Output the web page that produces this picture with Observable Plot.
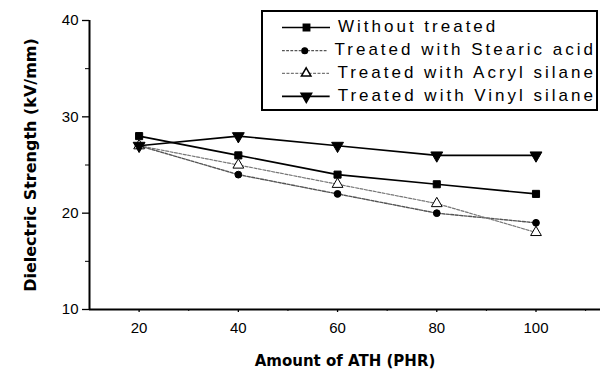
<!DOCTYPE html>
<html>
<head>
<meta charset="utf-8">
<script src="https://cdn.jsdelivr.net/npm/d3@7"></script>
<script src="https://cdn.jsdelivr.net/npm/@observablehq/plot@0.6"></script>
<style>
  html, body { margin: 0; padding: 0; background: #fff; }
  #wrap { position: relative; width: 601px; height: 374px; font-family: "Liberation Sans", Arial, sans-serif; }
  #legend { position: absolute; left: 261px; top: 10px; width: 337px; height: 101px; border: 2px solid #000; background: #fff; box-sizing: border-box; }
  .row { position: absolute; left: 0; height: 22px; display: flex; align-items: center; }
  .row span { font-size: 17px; letter-spacing: 3px; color: #000; white-space: nowrap; }
  .row svg { margin-left: 19px; margin-right: 8px; }
</style>
</head>
<body>
<div id="wrap"></div>
<script>
const amounts = [20, 40, 60, 80, 100];
const seriesNames = ["Without treated", "Treated with Stearic acid", "Treated with Acryl silane", "Treated with Vinyl silane"];
const withoutTreated = [28, 26, 24, 23, 22];
const stearicAcid = [27, 24, 22, 20, 19];
const acrylSilane = [27, 25, 23, 21, 18];
const vinylSilane = [27, 28, 27, 26, 26];
const yTicks = [10, 20, 30, 40];
const yMinor = [15, 25, 35];
const xTicks = [20, 40, 60, 80, 100];
const xMinor = [30, 50, 70, 90, 110];

const styles = [
  {stroke: "#000", dash: null, width: 1.6, symbol: "square", fill: "#000", r: 4, rotate: 0},
  {stroke: "#555", dash: "3,1.5", width: 1.4, symbol: "circle", fill: "#000", r: 3.4, rotate: 0},
  {stroke: "#777", dash: "3,1.5", width: 1.2, symbol: "triangle", fill: "#fff", r: 4, rotate: 0},
  {stroke: "#000", dash: null, width: 1.6, symbol: "triangle", fill: "#000", r: 4.4, rotate: 180}
];
const allVals = [withoutTreated, stearicAcid, acrylSilane, vinylSilane];
const data = [];
allVals.forEach((vals, i) => vals.forEach((v, j) => data.push({series: seriesNames[i], idx: i, x: amounts[j], y: v})));

const marks = [];
allVals.forEach((vals, i) => {
  const s = styles[i];
  const d = data.filter(r => r.idx === i);
  marks.push(Plot.line(d, {x: "x", y: "y", stroke: s.stroke, strokeWidth: s.width, strokeDasharray: s.dash}));
});
allVals.forEach((vals, i) => {
  const s = styles[i];
  const d = data.filter(r => r.idx === i);
  marks.push(Plot.dot(d, {x: "x", y: "y", symbol: () => s.symbol, r: s.r, fill: s.fill, stroke: "#000", strokeWidth: 1, rotate: s.rotate}));
});

const chart = Plot.plot({
  width: 601, height: 374,
  marginLeft: 89, marginRight: 1, marginTop: 20, marginBottom: 65,
  style: {fontFamily: "'Liberation Sans', Arial, sans-serif", fontSize: "15px", background: "#fff", color: "#000"},
  x: {domain: [10, 113], type: "linear"},
  y: {domain: [10, 40]},
  symbol: {type: "identity"},
  marks: [
    Plot.ruleX([10], {stroke: "#000", strokeWidth: 2}),
    Plot.ruleY([10], {stroke: "#000", strokeWidth: 2}),
    Plot.axisY({ticks: yTicks, tickSize: 7, tickPadding: 4, tickFormat: d => String(d), fontSize: 15, label: null, strokeWidth: 1.3}),
    Plot.axisY({ticks: yMinor, tickSize: 4, tickFormat: () => "", label: null}),
    Plot.axisX({ticks: xTicks, tickSize: 3, tickPadding: 10, tickFormat: d => String(d), fontSize: 15, label: null, strokeWidth: 1.3}),
    Plot.axisX({ticks: xMinor, tickSize: 2, tickFormat: () => "", label: null}),
    Plot.text(["Amount of ATH (PHR)"], {frameAnchor: "bottom", dy: 56, text: d => d, fontSize: 15, fontWeight: "bold", fontFamily: "'DejaVu Sans', sans-serif", letterSpacing: 1.7}),
    Plot.text(["Dielectric Strength (kV/mm)"], {frameAnchor: "left", textAnchor: "middle", dx: -59, rotate: -90, text: d => d, fontSize: 16, fontWeight: "bold", fontFamily: "'DejaVu Sans', sans-serif", letterSpacing: 2.2}),
    ...marks
  ]
});
document.getElementById("wrap").appendChild(chart);

// Legend
const legend = document.createElement("div");
legend.id = "legend";
const tops = [4, 27, 50, 73];
seriesNames.forEach((name, i) => {
  const s = styles[i];
  const row = document.createElement("div");
  row.className = "row";
  row.style.top = tops[i] + "px";
  const sym = Plot.dot([0], {x: () => 24, y: () => 11, symbol: () => s.symbol, r: s.r * 0.9, fill: s.fill, stroke: "#000", rotate: s.rotate});
  const ln = Plot.ruleY([11], {x1: 0, x2: 48, stroke: s.stroke, strokeWidth: s.width, strokeDasharray: s.dash});
  const mini = Plot.plot({width: 48, height: 22, margin: 0, x: {type: "identity"}, y: {type: "identity"}, symbol: {type: "identity"}, axis: null, marks: [ln, sym]});
  mini.style.background = "transparent";
  row.appendChild(mini);
  const t = document.createElement("span");
  t.textContent = name;
  row.appendChild(t);
  legend.appendChild(row);
});
document.getElementById("wrap").appendChild(legend);
</script>
</body>
</html>
